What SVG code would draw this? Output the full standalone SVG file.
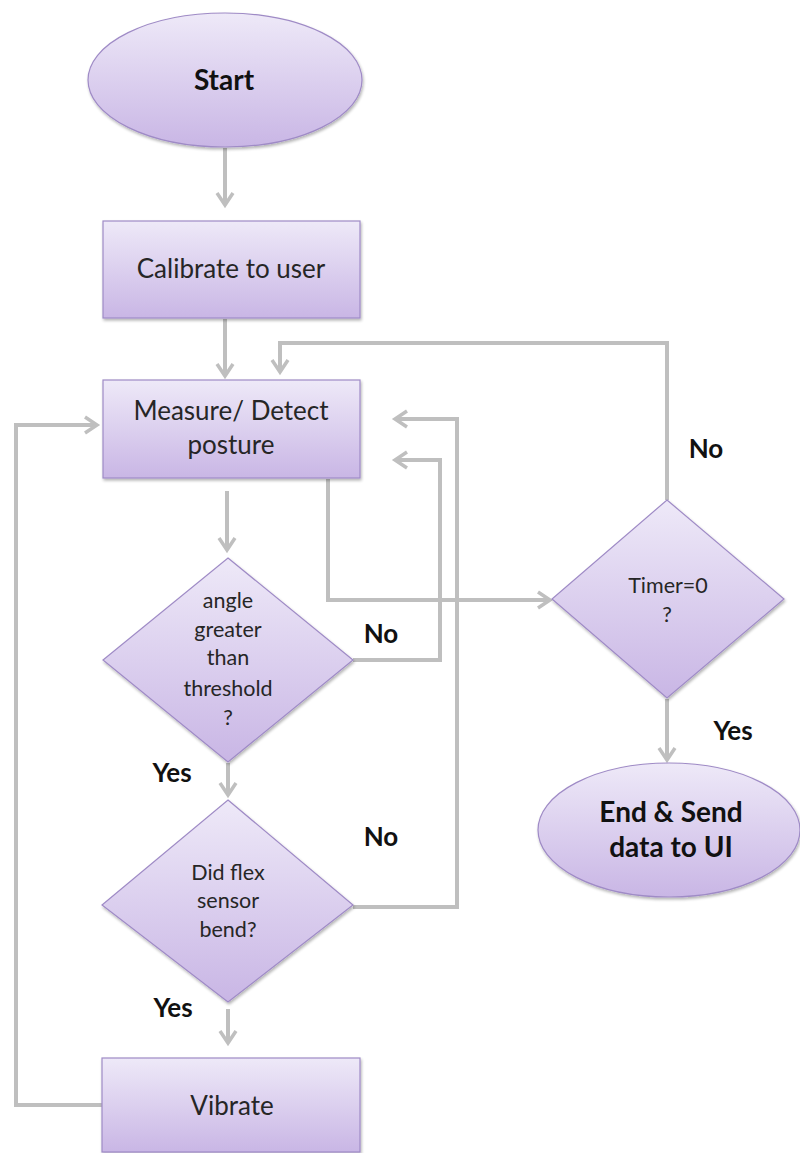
<svg xmlns="http://www.w3.org/2000/svg" width="800" height="1153" viewBox="0 0 800 1153">
<defs>
<linearGradient id="g" x1="0" y1="0" x2="0" y2="1">
<stop offset="0" stop-color="#eee9f8"/>
<stop offset="1" stop-color="#c9b6e5"/>
</linearGradient>
<marker id="a" markerUnits="userSpaceOnUse" markerWidth="20" markerHeight="20" viewBox="0 0 20 20" refX="16" refY="10" orient="auto">
<path d="M4,2 L16,10 L4,18" fill="none" stroke="#bfbfbf" stroke-width="3.5" stroke-linejoin="miter"/>
</marker>
<filter id="s" x="-10%" y="-10%" width="125%" height="125%">
<feGaussianBlur in="SourceAlpha" stdDeviation="1.5"/>
<feOffset dx="1" dy="2"/>
<feComponentTransfer><feFuncA type="linear" slope="0.3"/></feComponentTransfer>
<feMerge><feMergeNode/><feMergeNode in="SourceGraphic"/></feMerge>
</filter>
</defs>
<style>
.n{fill:url(#g);stroke:#9f8bc6;stroke-width:1.2;filter:url(#s)}
.t{font-family:Lato,"Open Sans",sans-serif;font-size:26px;fill:#262626;text-anchor:middle}
.d{font-family:Lato,"Open Sans",sans-serif;font-size:21.5px;fill:#262626;text-anchor:middle}
.b{font-family:Lato,"Open Sans",sans-serif;font-size:28px;font-weight:bold;fill:#111;text-anchor:middle}
.l{font-family:Lato,"Open Sans",sans-serif;font-size:26px;font-weight:bold;fill:#111;text-anchor:middle}
.c{fill:none;stroke:#bfbfbf;stroke-width:4}
</style>
<rect width="800" height="1153" fill="#ffffff"/>
<g id="connectors">
<path class="c" d="M225,148 V205" marker-end="url(#a)"/>
<path class="c" d="M225,319 V376" marker-end="url(#a)"/>
<path class="c" d="M667,500 V343 H280 V372" marker-end="url(#a)"/>
<path class="c" d="M102,1105 H16 V425 H97" marker-end="url(#a)"/>
<path class="c" d="M227,491 V550" marker-end="url(#a)"/>
<path class="c" d="M328,479 V600 H550" marker-end="url(#a)"/>
<path class="c" d="M353,660 H440 V460 H395" marker-end="url(#a)"/>
<path class="c" d="M353,907 H457 V419 H395" marker-end="url(#a)"/>
<path class="c" d="M228,763 V795" marker-end="url(#a)"/>
<path class="c" d="M228,1009 V1043" marker-end="url(#a)"/>
<path class="c" d="M667,699 V760" marker-end="url(#a)"/>
</g>
<g id="start">
<ellipse class="n" cx="225" cy="80" rx="137" ry="67"/>
<text class="b" x="224" y="90">Start</text>
</g>
<g id="calibrate">
<rect class="n" x="103" y="221" width="257" height="97"/>
<text class="t" x="231" y="278">Calibrate to user</text>
</g>
<g id="measure">
<rect class="n" x="103" y="380" width="257" height="98"/>
<text class="t" x="231" y="420">Measure/ Detect</text>
<text class="t" x="231" y="454">posture</text>
</g>
<g id="angle">
<polygon class="n" points="228,558 353,660 228,762 103,660"/>
<text class="d" x="228" y="608">angle</text>
<text class="d" x="228" y="637">greater</text>
<text class="d" x="228" y="665">than</text>
<text class="d" x="228" y="696">threshold</text>
<text class="d" x="228" y="725">?</text>
</g>
<g id="flex">
<polygon class="n" points="228,800 353,905 228,1002 102,905"/>
<text class="d" x="228" y="880">Did flex</text>
<text class="d" x="228" y="908">sensor</text>
<text class="d" x="228" y="937">bend?</text>
</g>
<g id="vibrate">
<rect class="n" x="102" y="1058" width="258" height="94"/>
<text class="t" x="232" y="1115">Vibrate</text>
</g>
<g id="timer">
<polygon class="n" points="667,500 784,599 667,698 552,599"/>
<text class="d" x="668" y="593">Timer=0</text>
<text class="d" x="667" y="622">?</text>
</g>
<g id="end">
<ellipse class="n" cx="669" cy="830" rx="131" ry="67"/>
<text class="b" x="671" y="822">End &amp; Send</text>
<text class="b" x="671" y="857">data to UI</text>
</g>
<g id="labels">
<text class="l" x="381" y="643">No</text>
<text class="l" x="381" y="846">No</text>
<text class="l" x="706" y="458">No</text>
<text class="l" x="172" y="782">Yes</text>
<text class="l" x="173" y="1017">Yes</text>
<text class="l" x="733" y="740">Yes</text>
</g>
</svg>
